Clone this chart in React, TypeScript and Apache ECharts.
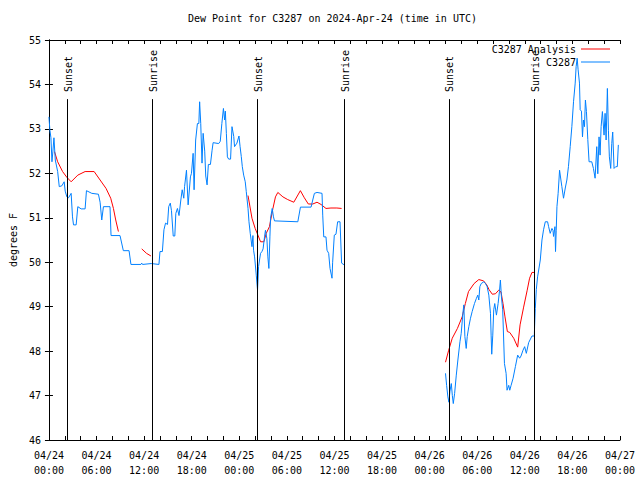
import React, { useEffect, useRef } from 'react';
import * as echarts from 'echarts';

const FONT = 'DejaVu Sans Mono';
const TITLE = 'Dew Point for C3287 on 2024-Apr-24 (time in UTC)';
const Y_NAME = 'degrees F';
const START_DAY = 24;
const MONTH = '04';

// x values: hours since 2024-04-24 00:00 UTC
const obsSeg1: [number, number][] = [
  [0.0, 53.27], [0.12, 52.97], [0.25, 52.8], [0.38, 52.26], [0.5, 52.5], [0.63, 52.8], [0.8, 52.3],
  [1.1, 52.04], [1.3, 51.7], [1.63, 51.72], [1.92, 51.81], [2.05, 51.6], [2.26, 51.47], [2.47, 51.45],
  [2.8, 51.55], [2.97, 51.02], [3.1, 50.84], [3.43, 50.84], [3.64, 51.25], [4.06, 51.2], [4.56, 51.2],
  [4.73, 51.61], [5.4, 51.55], [6.24, 51.53], [6.45, 51.35], [6.66, 50.95], [6.87, 51.25], [7.7, 51.25],
  [7.83, 50.6], [8.96, 50.6], [9.38, 50.26], [10.1, 50.26], [10.34, 49.95], [11.6, 49.95], [11.7, 49.98],
  [11.8, 49.95], [12.9, 49.97], [13.87, 49.95], [14.0, 50.24], [14.3, 50.24], [14.5, 50.73], [14.7, 50.88],
  [14.95, 50.85], [15.1, 51.25], [15.3, 51.33], [15.45, 51.16], [15.67, 50.59], [15.87, 50.59], [16.0, 51.1],
  [16.2, 51.21], [16.4, 51.05], [16.63, 51.4], [16.8, 51.63], [17.0, 51.44], [17.1, 51.7], [17.34, 52.07],
  [17.55, 51.29], [17.84, 51.92], [17.97, 52.0], [18.18, 52.45], [18.3, 51.63], [18.5, 52.75], [18.72, 53.12],
  [18.9, 53.12], [19.0, 53.61], [19.14, 53.12], [19.3, 52.23], [19.44, 52.9], [19.64, 52.5], [19.77, 51.94],
  [19.94, 51.74], [20.1, 52.2], [20.36, 52.2], [20.57, 52.52], [20.7, 52.69], [21.4, 52.67], [21.6, 52.72],
  [21.8, 53.12], [22.0, 53.46], [22.15, 53.2], [22.24, 53.4], [22.37, 52.9], [22.5, 52.37], [22.66, 52.32],
  [22.9, 52.32], [23.08, 53.05], [23.3, 52.83], [23.4, 52.6], [23.7, 52.68], [23.96, 52.84], [24.1, 52.6],
  [24.25, 52.38], [24.38, 52.15], [24.55, 51.96], [24.75, 51.81], [24.88, 51.59], [25.1, 51.21], [25.22, 50.91],
  [25.38, 50.65], [25.6, 50.35], [25.72, 50.6], [25.8, 50.27], [25.93, 50.12], [26.14, 49.71], [26.3, 49.37],
  [26.43, 49.9], [26.55, 50.05], [26.68, 50.2], [26.85, 50.24], [27.0, 50.3], [27.18, 50.57], [27.3, 50.72],
  [27.48, 50.53], [27.6, 50.12], [27.73, 49.86], [27.86, 50.57], [27.94, 50.99], [28.15, 51.21], [28.31, 51.02],
  [28.44, 50.93], [31.38, 50.91], [31.71, 51.24], [33.05, 51.24], [33.26, 51.4], [33.47, 51.55], [33.8, 51.57],
  [34.43, 51.55], [34.52, 51.06], [34.65, 50.57], [34.93, 50.57], [35.06, 50.27], [35.27, 50.2], [35.44, 49.86],
  [35.69, 49.64], [35.77, 50.0], [35.98, 50.61], [36.19, 50.63], [36.4, 50.91], [36.7, 50.91], [36.9, 49.98],
  [37.23, 49.94],
];

const obsSeg2: [number, number][] = [
  [50.0, 47.5], [50.14, 47.23], [50.3, 46.97], [50.43, 46.85], [50.56, 47.1], [50.73, 47.27], [50.86, 47.0],
  [50.98, 46.82], [51.15, 47.05], [51.36, 47.46], [51.56, 47.8], [51.82, 48.21], [51.98, 48.4], [52.19, 48.85],
  [52.31, 49.04], [52.44, 48.33], [52.61, 48.06], [52.74, 48.33], [52.94, 48.55], [53.15, 48.74], [53.36, 48.89],
  [53.65, 49.07], [53.9, 49.19], [54.07, 49.26], [54.2, 49.15], [54.33, 49.45], [54.5, 49.52], [54.83, 49.56],
  [55.04, 49.52], [55.25, 49.45], [55.46, 49.26], [55.67, 48.85], [55.75, 48.36], [55.83, 47.93], [55.96, 48.36],
  [56.08, 48.93], [56.21, 49.07], [56.42, 48.81], [56.63, 49.07], [56.8, 49.34], [56.92, 49.6], [57.05, 49.22],
  [57.21, 48.93], [57.43, 47.72], [57.64, 47.5], [57.76, 47.12], [57.97, 47.23], [58.1, 47.12], [58.27, 47.23],
  [58.52, 47.39], [58.81, 47.65], [59.1, 47.91], [59.35, 47.84], [59.52, 47.89], [59.77, 48.02], [59.98, 48.1],
  [60.19, 47.95], [60.48, 48.19], [60.9, 48.34], [61.2, 48.34], [61.23, 48.55], [61.32, 48.96], [61.45, 49.39],
  [61.61, 49.67], [61.95, 50.05], [62.16, 50.5], [62.36, 50.73], [62.58, 50.91], [62.87, 50.91], [63.0, 50.8],
  [63.2, 50.65], [63.42, 50.76], [63.55, 50.72], [63.62, 50.58], [63.8, 50.8], [63.87, 50.24], [63.96, 50.72],
  [64.05, 51.25], [64.2, 51.55], [64.38, 52.07], [64.55, 51.85], [64.67, 51.7], [64.88, 51.44], [65.1, 51.67],
  [65.3, 51.85], [65.5, 52.15], [65.72, 52.6], [65.93, 53.05], [66.14, 53.61], [66.35, 54.03], [66.47, 54.4],
  [66.6, 54.59], [66.72, 54.33], [66.89, 54.03], [66.98, 53.43], [67.14, 53.4], [67.27, 52.82], [67.39, 53.2],
  [67.52, 53.05], [67.64, 53.65], [67.77, 53.39], [67.94, 52.76], [68.1, 52.26], [68.44, 52.26], [68.65, 52.11],
  [68.86, 51.89], [69.07, 52.6], [69.2, 51.99], [69.36, 52.82], [69.49, 52.41], [69.62, 53.05], [69.78, 53.39],
  [69.99, 52.86], [70.12, 53.35], [70.25, 52.75], [70.41, 53.91], [70.54, 52.97], [70.66, 52.37], [70.83, 52.11],
  [70.96, 52.67], [71.08, 52.93], [71.25, 52.11], [71.46, 52.15], [71.66, 52.15], [71.79, 52.64],
];

const anaSeg1: [number, number][] = [
  [0.7, 52.49], [1.1, 52.26], [1.72, 52.04], [2.26, 51.91], [2.8, 51.81], [3.64, 51.96], [4.56, 52.04],
  [5.7, 52.04], [6.45, 51.85], [7.2, 51.66], [7.79, 51.44], [8.13, 51.21], [8.42, 50.95], [8.76, 50.69],
];
const anaSeg2: [number, number][] = [[11.7, 50.3], [12.3, 50.2], [12.86, 50.14]];
const anaSeg3: [number, number][] = [
  [25.1, 51.5], [25.6, 50.99], [26.0, 50.76], [26.35, 50.61], [26.68, 50.46], [27.1, 50.46], [27.4, 50.65],
  [27.8, 50.8], [28.24, 51.21], [28.56, 51.47], [28.86, 51.57], [29.5, 51.47], [30.1, 51.41], [30.87, 51.35],
  [31.7, 51.61], [32.2, 51.45], [32.7, 51.31], [33.26, 51.31], [33.8, 51.35], [34.3, 51.3], [34.93, 51.21],
  [35.56, 51.22], [36.3, 51.22], [36.9, 51.21],
];
const anaSeg4: [number, number][] = [
  [50.0, 47.75], [50.4, 48.02], [50.85, 48.29], [51.5, 48.51], [52.1, 48.77], [52.5, 49.07], [52.9, 49.34],
  [53.6, 49.52], [54.2, 49.61], [54.8, 49.58], [55.2, 49.49], [55.5, 49.38], [55.9, 49.28], [56.3, 49.29],
  [56.7, 49.37], [57.0, 49.33], [57.25, 49.07], [57.5, 48.77], [57.8, 48.44], [58.1, 48.42], [58.6, 48.29],
  [59.1, 48.09], [59.4, 48.59], [59.85, 48.99], [60.3, 49.37], [60.6, 49.64], [60.9, 49.77], [61.2, 49.77],
];

const sunEventHours = [2.3, 13.07, 26.28, 37.23, 50.43, 61.23];
const sunEventLabels = ['Sunset', 'Sunrise', 'Sunset', 'Sunrise', 'Sunset', 'Sunrise'];
const SUN_LINE_TOP = 53.67;

const Y_MIN = 46;
const Y_MAX = 55;
const X_MIN = 0;
const X_MAX = 72;

function joinSegments(segs: [number, number][][]): any[] {
  const out: any[] = [];
  segs.forEach((s, i) => {
    if (i > 0) out.push([s[0][0] - 0.01, '-']);
    s.forEach((p) => out.push(p));
  });
  return out;
}

const pad = (n: number) => (n < 10 ? '0' + n : '' + n);

export default function App() {
  const ref = useRef<HTMLDivElement>(null);
  useEffect(() => {
    document.body.style.margin = '0';
    if (!ref.current) return;
    const chart = echarts.init(ref.current, null, { renderer: 'svg' });
    const txt = { fontFamily: FONT, fontSize: 10, color: '#000' };
    const black = { color: '#000', width: 1 };
    const xBase = {
      type: 'value' as const,
      min: X_MIN,
      max: X_MAX,
      interval: 6,
      axisLine: { show: true, lineStyle: black },
      axisTick: { show: true, inside: true, length: 4, lineStyle: black },
      minorTick: { show: true, splitNumber: 3, length: 4, lineStyle: black },
      splitLine: { show: false },
    };
    const yBase = {
      type: 'value' as const,
      min: Y_MIN,
      max: Y_MAX,
      interval: 1,
      axisLine: { show: true, lineStyle: black },
      axisTick: { show: true, inside: true, length: 4, lineStyle: black },
      splitLine: { show: false },
    };
    chart.setOption({
      animation: false,
      backgroundColor: '#fff',
      title: {
        text: TITLE,
        left: 188,
        top: 13,
        padding: 0,
        textStyle: { ...txt, fontWeight: 'normal' },
      },
      grid: { left: 47, right: 20, top: 40, bottom: 40 },
      legend: [
        {
          data: [{ name: 'C3287 Analysis', icon: 'rect' }],
          right: 30, top: 44, padding: 0, align: 'right', itemWidth: 29, itemHeight: 1,
          selectedMode: false, textStyle: txt,
        },
        {
          data: [{ name: 'C3287', icon: 'rect' }],
          right: 30, top: 57, padding: 0, align: 'right', itemWidth: 29, itemHeight: 1,
          selectedMode: false, textStyle: txt,
        },
      ],
      xAxis: [
        {
          ...xBase,
          position: 'bottom',
          axisLabel: {
            ...txt,
            margin: 8,
            lineHeight: 15,
            formatter: (v: number) => {
              if (v % 6 !== 0) return '';
              const d = START_DAY + Math.floor(v / 24);
              return `${MONTH}/${d}\n${pad(v % 24)}:00`;
            },
          },
        },
        { ...xBase, position: 'top', axisLabel: { show: false } },
      ],
      yAxis: [
        {
          ...yBase,
          position: 'left',
          name: Y_NAME,
          nameLocation: 'middle',
          nameRotate: 90,
          nameGap: 30,
          nameTextStyle: txt,
          axisLabel: { ...txt, margin: 8 },
        },
        { ...yBase, position: 'right', axisLabel: { show: false } },
      ],
      series: [
        {
          name: 'C3287 Analysis',
          type: 'line',
          xAxisIndex: 0,
          yAxisIndex: 0,
          data: joinSegments([anaSeg1, anaSeg2, anaSeg3, anaSeg4]),
          showSymbol: false,
          symbol: 'none',
          color: '#ff0000',
          lineStyle: { color: '#ff0000', width: 1 },
          connectNulls: false,
        },
        {
          name: 'C3287',
          type: 'line',
          xAxisIndex: 0,
          yAxisIndex: 0,
          data: joinSegments([obsSeg1, obsSeg2]),
          showSymbol: false,
          symbol: 'none',
          color: '#0080ff',
          lineStyle: { color: '#0080ff', width: 1 },
          connectNulls: false,
          markLine: {
            silent: true,
            symbol: ['none', 'none'],
            label: { show: false },
            lineStyle: { color: '#000', width: 1, type: 'solid' },
            data: sunEventHours.map((h) => [{ coord: [h, Y_MIN] }, { coord: [h, SUN_LINE_TOP] }]),
          },
        },
      ],
    });
    const graphics = sunEventHours.map((h, i) => {
      const p = chart.convertToPixel({ xAxisIndex: 0, yAxisIndex: 0 }, [h, SUN_LINE_TOP]) as number[];
      return {
        type: 'text',
        x: p[0] + 1,
        y: p[1] - 7,
        rotation: Math.PI / 2,
        silent: true,
        style: {
          text: sunEventLabels[i],
          fill: '#000',
          fontFamily: FONT,
          fontSize: 10,
          textAlign: 'left',
          textVerticalAlign: 'middle',
          align: 'left',
          verticalAlign: 'middle',
        },
      };
    });
    chart.setOption({ graphic: graphics });
    return () => chart.dispose();
  }, []);
  return <div ref={ref} style={{ width: 640, height: 480 }} />;
}
